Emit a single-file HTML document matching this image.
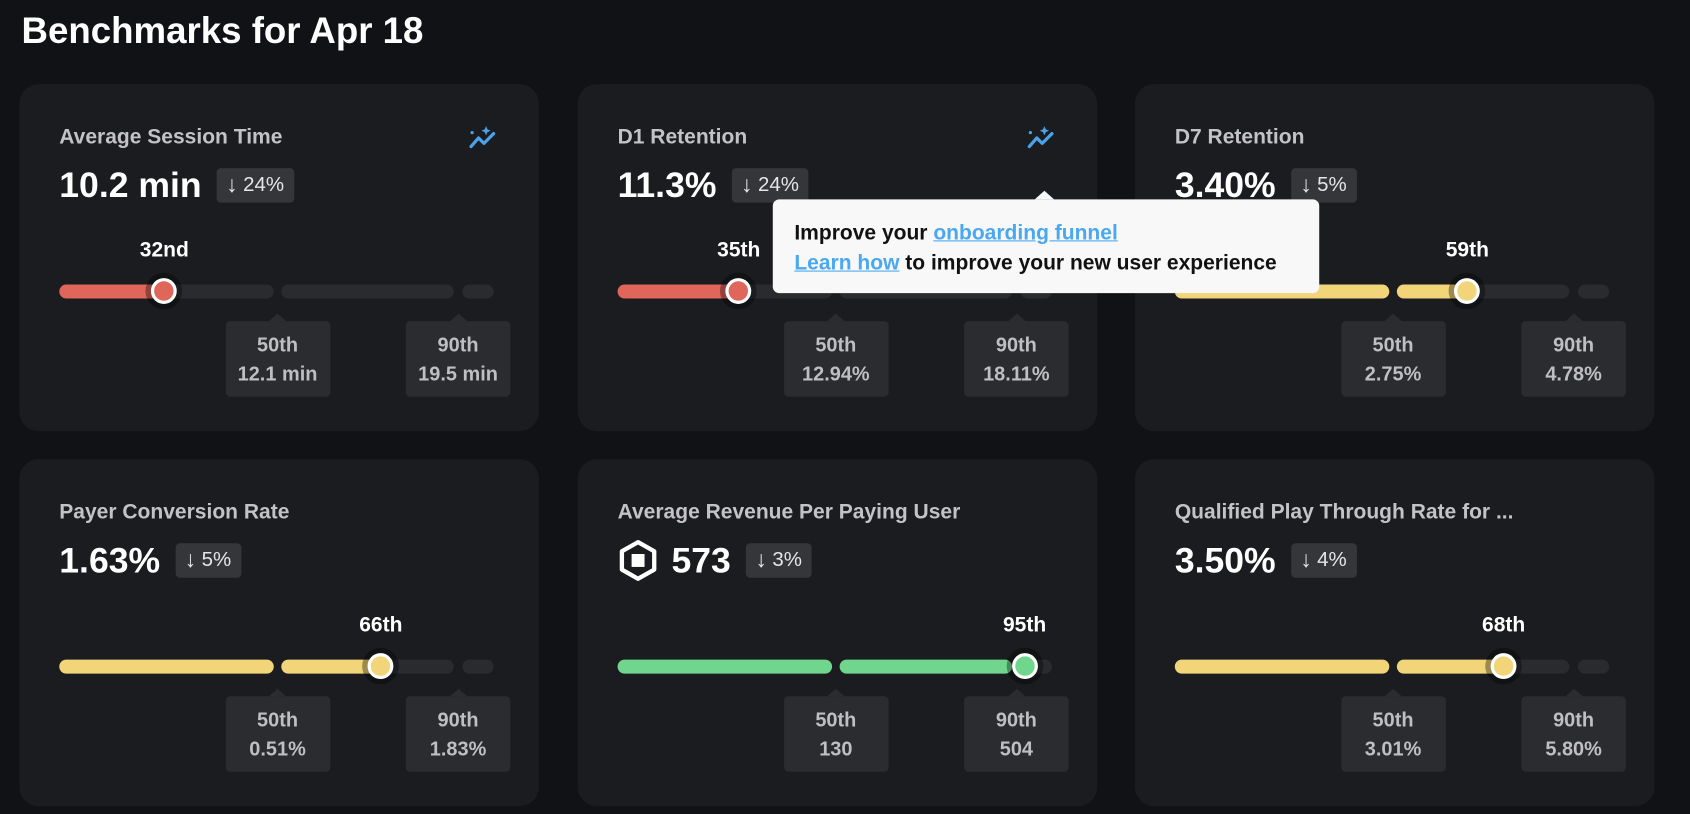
<!DOCTYPE html>
<html><head><meta charset="utf-8">
<style>
html,body{margin:0;padding:0;background:#111215;width:1690px;height:814px;overflow:hidden}
#root{position:absolute;left:0;top:0;width:1568px;height:755px;transform:scale(1.07781);transform-origin:0 0;font-family:"Liberation Sans",sans-serif;color:#fff}
.title{position:absolute;left:20px;top:10px;font-size:34px;font-weight:700;color:#fff}
.card{position:absolute;width:482px;height:322px;background:#1b1c1f;border-radius:18px}
.ctitle{position:absolute;left:37px;top:38px;font-size:19.5px;color:#c3c3c6;font-weight:600;white-space:nowrap}
.vrow{position:absolute;left:37px;top:76px;height:36px;display:flex;align-items:center}
.val{font-size:33px;font-weight:700;color:#fff}
.badge{margin-left:14px;height:32px;padding:0 9px;background:#35363a;border-radius:4px;display:flex;align-items:center;font-size:19px;color:#e6e6e8}
.seg{position:absolute;height:13px;border-radius:7px;background:#2a2b2f}
.pl{position:absolute;font-size:19.5px;font-weight:700;color:#fff;transform:translateX(-50%);white-space:nowrap}
.mk{position:absolute;width:24px;height:24px;border-radius:50%;border:3px solid #fff;box-sizing:border-box;transform:translate(-50%,-50%);box-shadow:0 0 0 5px rgba(0,0,0,0.35)}
.tip{position:absolute;width:97px;height:70px;background:#2b2c30;border-radius:4px;transform:translateX(-50%);text-align:center;font-size:18.5px;font-weight:600;color:#bfbfc2;line-height:27px;padding-top:8px;box-sizing:border-box;white-space:nowrap}
.tip:before{content:"";position:absolute;left:50%;top:-7px;margin-left:-8px;border-left:8px solid transparent;border-right:8px solid transparent;border-bottom:7px solid #2b2c30}
.pop{position:absolute;left:717px;top:185px;width:507px;height:87px;background:#f8f8f8;border-radius:6px;color:#111;font-size:19.5px;font-weight:600;padding:17px 0 0 20px;box-sizing:border-box;line-height:28px;white-space:nowrap}
.pop:before{content:"";position:absolute;left:243px;top:-8px;border-left:9px solid transparent;border-right:9px solid transparent;border-bottom:8px solid #f8f8f8}
.pop a{color:#4aa8f0;text-decoration:underline}
</style></head><body>
<div id="root">
<div class="title">Benchmarks for Apr 18</div>
</div>
<script>
const cardTitles=["Average Session Time","D1 Retention","D7 Retention","Payer Conversion Rate","Average Revenue Per Paying User","Qualified Play Through Rate for ..."];
const cardValues=["10.2 min","11.3%","3.40%","1.63%","573","3.50%"];
const changes=["24%","24%","5%","5%","3%","4%"];
const percentiles=[32,35,59,66,95,68];
const pctLabels=["32nd","35th","59th","66th","95th","68th"];
const p50Values=["12.1 min","12.94%","2.75%","0.51%","130","3.01%"];
const p90Values=["19.5 min","18.11%","4.78%","1.83%","504","5.80%"];
const colors=["#e0665b","#e0665b","#f1d578","#f1d578","#70d68e","#f1d578"];
const hasIcon=[true,true,false,false,false,false];
const hasCoin=[false,false,false,false,true,false];

const root=document.getElementById('root');
const cardX=[18,536,1053],cardY=[78,426];
const segs=[[0,199],[206,366],[374,403]];
function xScale(p){
  if(p<=50) return segs[0][0]+(segs[0][1]-segs[0][0])*Math.pow(p/50,1.6);
  if(p<=90) return segs[1][0]+(segs[1][1]-segs[1][0])*Math.pow((p-50)/40,0.6);
  return segs[2][0]+(segs[2][1]-segs[2][0])*Math.pow((p-90)/10,3);
}
const barY=192,barL=37;
percentiles.forEach((p,i)=>{
  const c=document.createElement('div');
  c.className='card';
  
  
  c.style.left=cardX[i%3]+'px';c.style.top=cardY[Math.floor(i/3)]+'px';
  root.appendChild(c);
  const t=document.createElement('div');t.className='ctitle';t.textContent=cardTitles[i];
  
  
  c.appendChild(t);
  if(hasIcon[i]){
    const ic=document.createElementNS('http://www.w3.org/2000/svg','svg');
    ic.setAttribute('width','30');ic.setAttribute('height','24');
    ic.style.cssText='position:absolute;left:416px;top:38px';
    ic.innerHTML='<path d="M3 20 L10 12 L15 17 L24 8" stroke="#4aa3ea" stroke-width="3" fill="none" stroke-linecap="round" stroke-linejoin="round"/><path d="M17 1 l1.3 3 3 1.3 -3 1.3 -1.3 3 -1.3 -3 -3 -1.3 3 -1.3z" fill="#4aa3ea"/><circle cx="4" cy="7" r="1.5" fill="#4aa3ea"/>';
    
    
    c.appendChild(ic);
  }
  const vr=document.createElement('div');vr.className='vrow';
  
  
  let h='';
  if(hasCoin[i]) h+='<svg width="38" height="40" viewBox="0 0 38 40" style="margin-right:12px"><path d="M19 3 L34 11.5 L34 28.5 L19 37 L4 28.5 L4 11.5Z" fill="none" stroke="#fff" stroke-width="4" stroke-linejoin="round"/><rect x="13" y="14" width="12" height="12" fill="#fff"/></svg>';
  h+='<span class="val">'+cardValues[i]+'</span><span class="badge"><span style="font-size:21px;margin-right:5px;font-weight:700">&#8595;</span>'+changes[i]+'</span>';
  vr.innerHTML=h;c.appendChild(vr);
  const mx=barL+xScale(p);
  segs.forEach(s=>{
    const sg=document.createElement('div');sg.className='seg';
    
    
    sg.style.left=(barL+s[0])+'px';sg.style.width=(s[1]-s[0])+'px';sg.style.top=(barY-6.5)+'px';
    c.appendChild(sg);
    const fillEnd=Math.min(mx,barL+s[1]);
    if(fillEnd>barL+s[0]){
      const f=document.createElement('div');f.className='seg';
      
      
      f.style.background=colors[i];
      f.style.left=(barL+s[0])+'px';f.style.width=(fillEnd-barL-s[0])+'px';f.style.top=(barY-6.5)+'px';
      c.appendChild(f);
    }
  });
  const m=document.createElement('div');m.className='mk';
  
  
  m.style.left=mx+'px';m.style.top=barY+'px';m.style.background=colors[i];
  c.appendChild(m);
  const pl=document.createElement('div');pl.className='pl';pl.textContent=pctLabels[i];
  
  
  pl.style.left=mx+'px';pl.style.top=(barY-49)+'px';
  c.appendChild(pl);
  [[p50Values[i],'50th',(segs[0][1]+segs[1][0])/2],[p90Values[i],'90th',(segs[1][1]+segs[2][0])/2]].forEach(d=>{
    const tp=document.createElement('div');tp.className='tip';
    
    
    tp.style.left=(barL+d[2])+'px';tp.style.top=(barY+28)+'px';
    tp.innerHTML=d[1]+'<br>'+d[0];
    c.appendChild(tp);
  });
});
const pop=document.createElement('div');pop.className='pop';


pop.innerHTML='Improve your <a>onboarding funnel</a><br><a>Learn how</a> to improve your new user experience';
root.appendChild(pop);
</script>
</body></html>
